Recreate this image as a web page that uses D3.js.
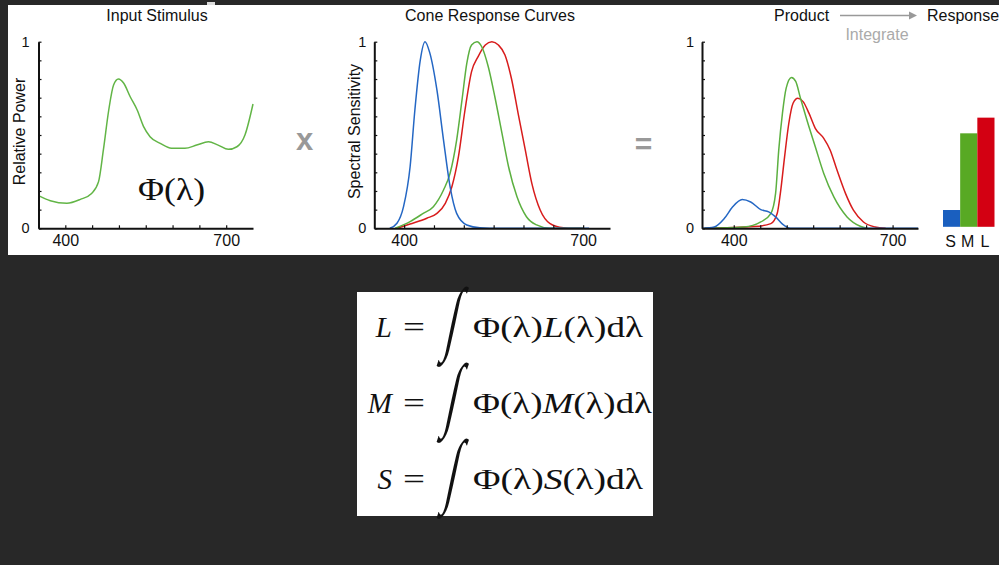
<!DOCTYPE html>
<html>
<head>
<meta charset="utf-8">
<script src="https://cdn.jsdelivr.net/npm/d3@7"></script>
<style>
  html, body { margin: 0; padding: 0; background: #282828; }
  svg { display: block; }
  .ttl { font-family: "Liberation Sans", Arial, sans-serif; font-size: 16px; fill: #111; }
  .axis .domain { stroke: #111; stroke-width: 2; }
  .axis line { stroke: #111; stroke-width: 1.2; }
  .axis text { font-family: "Liberation Sans", Arial, sans-serif; fill: #111; }
  .curve { fill: none; stroke-width: 1.5; }
  .math { font-family: "Liberation Serif", "Times New Roman", serif; fill: #111; }
</style>
</head>
<body>
<div id="chart"></div>
<script>
// input stimulus (relative power)
var stimulusWl = [350, 372, 403, 428, 449, 462, 471, 481, 490, 499, 509, 521, 534, 546, 558, 577, 598, 623, 645, 667, 685, 704, 720, 735, 750];
var stimulusPower = [0.175, 0.148, 0.134, 0.155, 0.187, 0.25, 0.42, 0.634, 0.768, 0.8, 0.777, 0.705, 0.634, 0.545, 0.491, 0.455, 0.429, 0.429, 0.446, 0.464, 0.446, 0.423, 0.437, 0.5, 0.666];

// cone response curves
var coneSWl = [376, 388, 399, 410, 418, 427, 435, 443, 455, 466, 477, 488, 505, 527, 560, 620, 710];
var coneS = [0, 0.027, 0.116, 0.33, 0.634, 0.9, 1.0, 0.94, 0.74, 0.473, 0.223, 0.08, 0.018, 0.003, 0, 0, 0];
var coneMWl = [385, 410, 432, 449, 466, 477, 488, 497, 505, 513, 522, 530, 541, 552, 564, 575, 589, 605, 622, 644, 700];
var coneM = [0, 0.036, 0.08, 0.116, 0.205, 0.295, 0.473, 0.688, 0.884, 0.982, 1.0, 0.973, 0.866, 0.705, 0.509, 0.33, 0.17, 0.062, 0.018, 0, 0];
var coneLWl = [388, 410, 438, 455, 469, 480, 491, 502, 513, 524, 536, 547, 558, 569, 580, 591, 603, 614, 628, 644, 667, 683, 700];
var coneL = [0, 0.023, 0.054, 0.08, 0.134, 0.223, 0.384, 0.634, 0.84, 0.92, 0.982, 1.0, 0.982, 0.929, 0.8, 0.616, 0.42, 0.241, 0.098, 0.027, 0.003, 0, 0];

// product curves
var prodSWl = [341, 363, 382, 398, 416, 432, 451, 466, 479, 492, 507, 748];
var prodS = [0, 0.007, 0.052, 0.115, 0.154, 0.141, 0.1, 0.088, 0.061, 0.022, 0, 0];
var prodMWl = [345, 419, 451, 470, 479, 485, 492, 499, 509, 517, 526, 539, 554, 570, 589, 614, 639, 652];
var prodM = [0, 0.007, 0.034, 0.079, 0.187, 0.42, 0.617, 0.751, 0.808, 0.787, 0.697, 0.572, 0.437, 0.294, 0.168, 0.061, 0.011, 0];
var prodLWl = [345, 438, 470, 482, 488, 496, 504, 512, 521, 531, 542, 554, 570, 582, 595, 611, 626, 645, 667, 687];
var prodL = [0, 0.009, 0.025, 0.079, 0.187, 0.383, 0.563, 0.67, 0.697, 0.679, 0.617, 0.536, 0.482, 0.42, 0.312, 0.187, 0.097, 0.034, 0.007, 0];

// integrated response
var responseCats = ["S", "M", "L"];
var responseVals = [0.098, 0.509, 0.593];

var xTicks = [400, 450, 500, 550, 600, 650, 700];
var yTicks = [0, 0.1, 0.2, 0.3, 0.4, 0.5, 0.6, 0.7, 0.8, 0.9, 1];

var blue = "#2467c4", green = "#5cb040", red = "#d81c1c";

var svg = d3.select("#chart").append("svg")
  .attr("width", 999)
  .attr("height", 565);

svg.append("rect").attr("width", 999).attr("height", 565).attr("fill", "#282828");
svg.append("rect").attr("x", 8).attr("y", 5).attr("width", 991).attr("height", 250).attr("fill", "#fff");
svg.append("rect").attr("x", 207).attr("y", 2).attr("width", 8).attr("height", 3).attr("fill", "#ddd");

var y = d3.scaleLinear().domain([0, 1]).range([228.3, 41.7]);

// draws axes for one panel
function drawAxes(x, x0, yPad) {
  svg.append("g")
    .attr("class", "axis")
    .attr("transform", "translate(0," + y(0) + ")")
    .call(d3.axisBottom(x).tickValues(xTicks).tickSize(-3).tickSizeOuter(0).tickPadding(6)
      .tickFormat(function(d) { return (d === 400 || d === 700) ? d : ""; }))
    .selectAll("text").style("font-size", "16px");

  svg.append("g")
    .attr("class", "axis")
    .attr("transform", "translate(" + x0 + ",0)")
    .call(d3.axisLeft(y).tickValues(yTicks).tickSize(-3).tickSizeOuter(0).tickPadding(yPad)
      .tickFormat(function(d) { return (d === 0 || d === 1) ? d : ""; }))
    .selectAll("text").style("font-size", "14.5px");
}

function drawCurve(x, wl, vals, color) {
  var pts = wl.map(function(w, i) { return [w, vals[i]]; });
  var line = d3.line()
    .x(function(d) { return x(d[0]); })
    .y(function(d) { return y(d[1]); })
    .curve(d3.curveMonotoneX);
  svg.append("path")
    .attr("class", "curve")
    .attr("stroke", color)
    .attr("d", line(pts));
}

// panel 1 - input stimulus
var x1 = d3.scaleLinear().domain([350, 750]).range([38.5, 253]);
drawCurve(x1, stimulusWl, stimulusPower, "#62b546");
drawAxes(x1, 38.5, 9);

svg.append("text").attr("class", "ttl").attr("x", 157).attr("y", 21).attr("text-anchor", "middle").text("Input Stimulus");
svg.append("text").attr("class", "ttl")
  .attr("transform", "translate(25,131.5) rotate(-90)")
  .attr("text-anchor", "middle").text("Relative Power");
svg.append("text").attr("class", "math")
  .attr("x", 138).attr("y", 200)
  .attr("textLength", 67).attr("lengthAdjust", "spacingAndGlyphs")
  .style("font-size", "31px").text("Φ(λ)");

// operator x
svg.append("text").attr("x", 304.5).attr("y", 150).attr("text-anchor", "middle")
  .style("font-family", "Liberation Sans, Arial, sans-serif").style("font-size", "31px")
  .style("font-weight", "bold").attr("fill", "#999").text("x");

// panel 2 - cone response
var x2 = d3.scaleLinear().domain([350, 745]).range([374.3, 610]);
drawCurve(x2, coneLWl, coneL, red);
drawCurve(x2, coneMWl, coneM, green);
drawCurve(x2, coneSWl, coneS, blue);
drawAxes(x2, 374.3, 8);

svg.append("text").attr("class", "ttl").attr("x", 490).attr("y", 21).attr("text-anchor", "middle").text("Cone Response Curves");
svg.append("text").attr("class", "ttl")
  .attr("transform", "translate(360,131.5) rotate(-90)")
  .attr("text-anchor", "middle").text("Spectral Sensitivity");

// operator =
svg.append("text").attr("x", 643.5).attr("y", 154).attr("text-anchor", "middle")
  .style("font-family", "Liberation Sans, Arial, sans-serif").style("font-size", "30px")
  .style("font-weight", "bold").attr("fill", "#999").text("=");

// panel 3 - product
var x3 = d3.scaleLinear().domain([340, 748]).range([702, 918]);
drawCurve(x3, prodLWl, prodL, red);
drawCurve(x3, prodMWl, prodM, green);
drawCurve(x3, prodSWl, prodS, blue);
drawAxes(x3, 702, 8);

svg.append("text").attr("class", "ttl").attr("x", 774).attr("y", 21).text("Product");
svg.append("text").attr("class", "ttl").attr("x", 927).attr("y", 21).text("Response");
svg.append("text").attr("class", "ttl").attr("x", 877).attr("y", 40).attr("text-anchor", "middle")
  .style("fill", "#aaa").text("Integrate");
svg.append("line").attr("x1", 840).attr("x2", 910).attr("y1", 15.5).attr("y2", 15.5)
  .attr("stroke", "#999").attr("stroke-width", 1.5);
svg.append("path").attr("d", "M909,11.5L917,15.5L909,19.5Z").attr("fill", "#999");

// response bars
var xb = d3.scaleBand().domain(responseCats).range([943, 994.5]).padding(0);
var barColors = { S: "#1a5fbf", M: "#58a924", L: "#d30012" };
svg.selectAll(".bar")
  .data(responseCats)
  .enter().append("rect")
  .attr("class", "bar")
  .attr("x", function(d) { return xb(d); })
  .attr("width", xb.bandwidth())
  .attr("y", function(d, i) { return y(responseVals[i]); })
  .attr("height", function(d, i) { return y(0) - 1.5 - y(responseVals[i]); })
  .attr("fill", function(d) { return barColors[d]; });
svg.selectAll(".blabel")
  .data(responseCats)
  .enter().append("text")
  .attr("class", "ttl")
  .attr("x", function(d) { return xb(d) + xb.bandwidth() / 2 - 1; })
  .attr("y", 246.5)
  .attr("text-anchor", "middle")
  .style("font-size", "16px")
  .text(function(d) { return d; });

// formula box
svg.append("rect").attr("x", 357).attr("y", 292).attr("width", 296).attr("height", 224).attr("fill", "#fff");

var rows = [
  { lhs: "L", y: 337, len: 170 },
  { lhs: "M", y: 413, len: 179 },
  { lhs: "S", y: 489, len: 170 }
];
rows.forEach(function(r) {
  svg.append("text").attr("class", "math").attr("x", 392).attr("y", r.y)
    .attr("text-anchor", "end").style("font-size", "29px").style("font-style", "italic").text(r.lhs);
  svg.append("text").attr("class", "math").attr("x", 403).attr("y", r.y)
    .attr("textLength", 22).attr("lengthAdjust", "spacingAndGlyphs")
    .style("font-size", "29px").text("=");
  var by = r.y + 8;
  svg.append("text").attr("class", "math").attr("x", 449).attr("y", by)
    .attr("text-anchor", "middle")
    .attr("transform", "translate(449," + by + ") skewX(-12) scale(0.8,1.575) translate(-449," + (-by) + ")")
    .style("font-size", "52px").text("∫");
  var t = svg.append("text").attr("class", "math").attr("x", 473).attr("y", r.y)
    .attr("textLength", r.len).attr("lengthAdjust", "spacingAndGlyphs")
    .style("font-size", "29px");
  t.append("tspan").text("Φ(λ)");
  t.append("tspan").style("font-style", "italic").text(r.lhs);
  t.append("tspan").text("(λ)dλ");
});
</script>
</body>
</html>
